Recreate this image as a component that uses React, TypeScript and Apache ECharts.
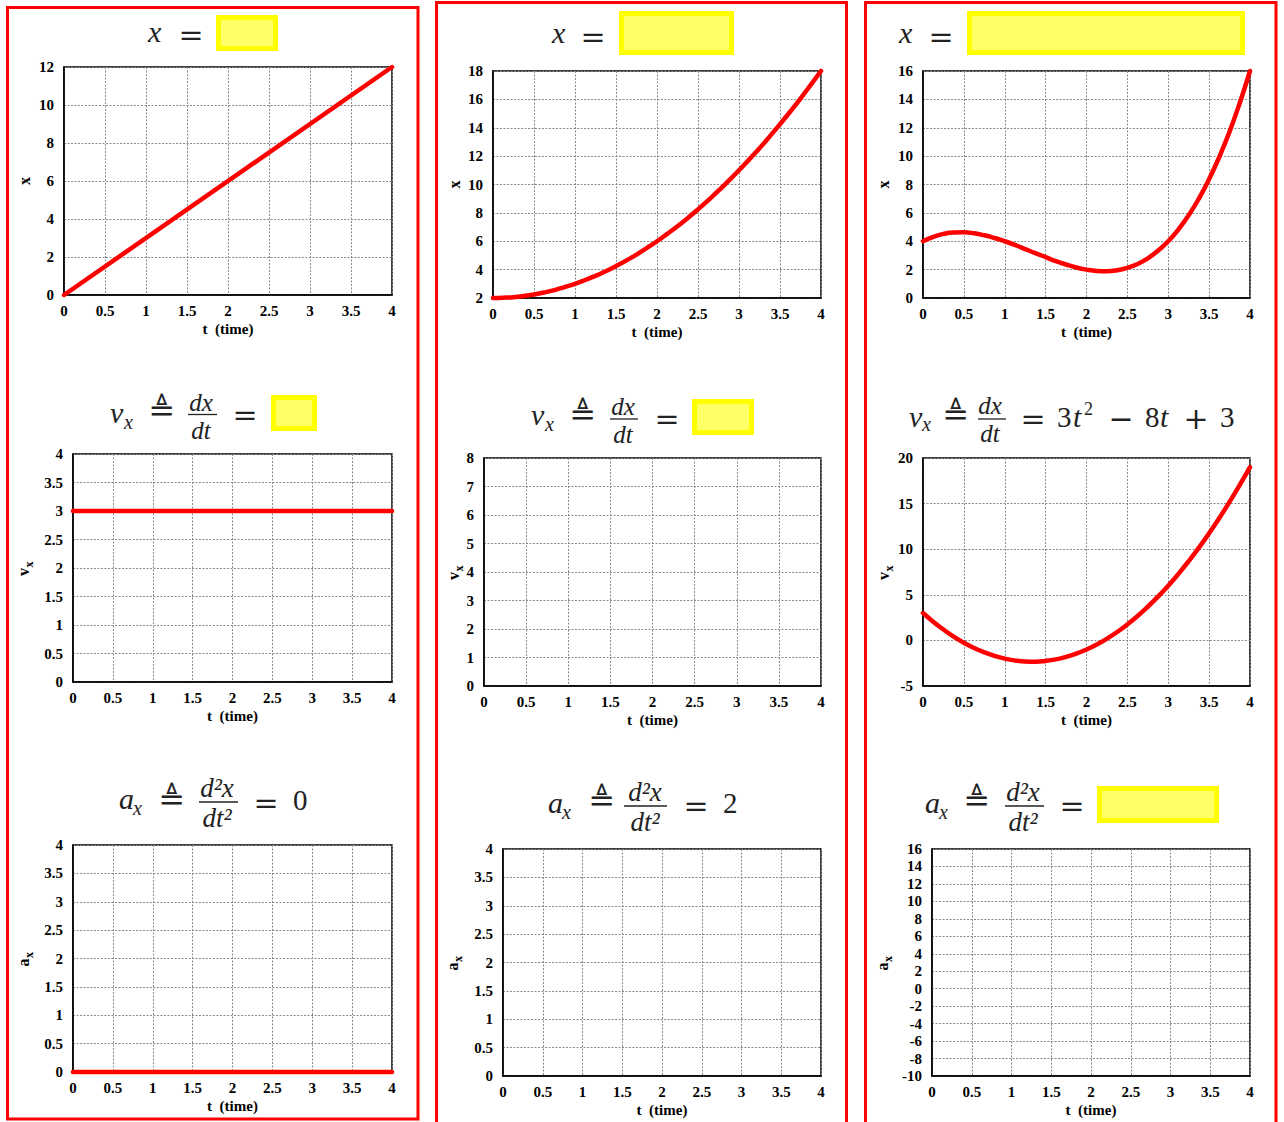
import React, { useEffect, useRef } from "react";
import * as echarts from "echarts";

// ---------- data ----------
const T_ENDS = [0, 4];
const T_EIGHTHS = [
  0, 0.125, 0.25, 0.375, 0.5, 0.625, 0.75, 0.875, 1, 1.125, 1.25, 1.375, 1.5, 1.625, 1.75, 1.875,
  2, 2.125, 2.25, 2.375, 2.5, 2.625, 2.75, 2.875, 3, 3.125, 3.25, 3.375, 3.5, 3.625, 3.75, 3.875, 4,
];

// column 1 : x, vx, ax
const C1_X = [0, 12];
const C1_VX = [3, 3];
const C1_AX = [0, 0];
// column 2 : x
const C2_X = [
  2, 2.02, 2.06, 2.14, 2.25, 2.39, 2.56, 2.77, 3, 3.27, 3.56, 3.89, 4.25, 4.64, 5.06, 5.52,
  6, 6.52, 7.06, 7.64, 8.25, 8.89, 9.56, 10.27, 11, 11.77, 12.56, 13.39, 14.25, 15.14, 16.06, 17.02, 18,
];
// column 3 : x, vx
const C3_X = [
  4, 4.31, 4.52, 4.62, 4.63, 4.56, 4.42, 4.23, 4, 3.74, 3.45, 3.16, 2.88, 2.6, 2.36, 2.15,
  2, 1.91, 1.89, 1.96, 2.13, 2.4, 2.8, 3.33, 4, 4.83, 5.83, 7.01, 8.38, 9.95, 11.73, 13.75, 16,
];
const C3_VX = [
  3, 2.05, 1.19, 0.42, -0.25, -0.83, -1.31, -1.7, -2, -2.2, -2.31, -2.33, -2.25, -2.08, -1.81, -1.45,
  -1, -0.45, 0.19, 0.92, 1.75, 2.67, 3.69, 4.8, 6, 7.3, 8.69, 10.17, 11.75, 13.42, 15.19, 17.05, 19,
];

// axis ranges [min, max, interval]
const T_RANGE = [0, 4, 0.5];
const Y_RANGES = [
  [0, 12, 2], [0, 4, 0.5], [0, 4, 0.5],
  [2, 18, 2], [0, 8, 1], [0, 4, 0.5],
  [0, 16, 2], [-5, 20, 5], [-10, 16, 2],
];
const Y_NAMES = [
  ["x", ""], ["v", "x"], ["a", "x"],
  ["x", ""], ["v", "x"], ["a", "x"],
  ["x", ""], ["v", "x"], ["a", "x"],
];
const X_NAME = "t  (time)";

// ---------- layout (pixels) ----------
const GRIDS = [
  [64, 67, 392, 295], [73, 454, 392, 682], [73, 845, 392, 1072],
  [493, 71, 821, 298], [484, 458, 821, 686], [503, 849, 821, 1076],
  [923, 71, 1250, 298], [923, 458, 1250, 686], [932, 849, 1250, 1076],
];
const Y_NAME_X = [24, 23, 23, 454, 453, 452, 883, 883, 882];

const SERIF = "'Liberation Serif', 'Times New Roman', Times, serif";
const LABEL_FONT = SERIF;
const MATH_FONT = SERIF;
const OP_FONT = "'DejaVu Serif', serif";
const INK = "#222";

function it(x: number, base: number, s: string, fs = 30) {
  return {
    type: "text", x, y: base - 0.3375 * fs,
    style: { text: s, fontSize: fs, lineHeight: fs, fontFamily: MATH_FONT, fontStyle: "italic", fill: INK, align: "left", verticalAlign: "middle" },
  };
}
function rm(x: number, base: number, s: string, fs = 29) {
  return {
    type: "text", x, y: base - 0.3375 * fs,
    style: { text: s, fontSize: fs, lineHeight: fs, fontFamily: MATH_FONT, fill: INK, align: "left", verticalAlign: "middle" },
  };
}
function op(cx: number, cy: number, s: string, fs = 30, font = OP_FONT) {
  return {
    type: "text", x: cx, y: cy,
    style: { text: s, fontSize: fs, lineHeight: 20, fontFamily: font, fill: INK, align: "center", verticalAlign: "middle" },
  };
}
// a stacked fraction: numerator and denominator as one two-line text, plus the bar
function frac(cx: number, cy: number, num: string, den: string, fs: number, lh: number, x1: number, x2: number, barY: number) {
  return [
    {
      type: "text", x: cx, y: cy,
      style: { text: num + "\n" + den, fontSize: fs, lineHeight: lh, fontFamily: MATH_FONT, fontStyle: "italic", fill: INK, align: "center", verticalAlign: "middle" },
    },
    { type: "line", shape: { x1, y1: barY, x2, y2: barY }, style: { stroke: INK, lineWidth: 1.3 } },
  ];
}
function ybox(x1: number, y1: number, x2: number, y2: number) {
  return [
    { type: "rect", shape: { x: x1, y: y1, width: x2 - x1, height: y2 - y1 }, style: { fill: "#ffff00" } },
    { type: "rect", shape: { x: x1 + 5, y: y1 + 5, width: x2 - x1 - 10, height: y2 - y1 - 10 }, style: { fill: "#ffff66" } },
  ];
}
function def(x: number, cyEq: number) {
  return op(x, cyEq - 4, "\u225C", 32, "'DejaVu Sans', sans-serif");
}

function buildGraphics() {
  const g: any[] = [];
  // red column frames
  g.push({ type: "rect", shape: { x: 7.5, y: 7.5, width: 410.5, height: 1111.5 }, style: { fill: "none", stroke: "#ff0000", lineWidth: 3 } });
  g.push({ type: "rect", shape: { x: 436.5, y: 2.5, width: 410, height: 1130 }, style: { fill: "none", stroke: "#ff0000", lineWidth: 3 } });
  g.push({ type: "rect", shape: { x: 865.5, y: 2.5, width: 410.5, height: 1130 }, style: { fill: "none", stroke: "#ff0000", lineWidth: 3 } });

  // row 1 titles
  g.push(it(148, 42, "x"), op(191, 34, "="), ...ybox(216, 15, 278, 51));
  g.push(it(552, 43, "x"), op(593, 36, "="), ...ybox(619, 11, 734, 55));
  g.push(it(899, 43, "x"), op(941, 36, "="), ...ybox(967, 11, 1245, 55));

  // row 2 titles
  g.push(it(110, 423, "v"), it(124, 429, "x", 20), def(162, 413.5),
    ...frac(201, 416, "dx", "dt", 25, 28, 188, 217, 414.5),
    op(245, 414, "="), ...ybox(271, 395, 317, 431));
  g.push(it(531, 425, "v"), it(545, 431, "x", 20), def(583, 418),
    ...frac(623, 420, "dx", "dt", 25, 28, 610, 638, 419),
    op(667, 418, "="), ...ybox(692, 399, 754, 435));
  g.push(it(909, 427, "v"), it(922, 431, "x", 20), def(956, 418),
    ...frac(990, 419.5, "dx", "dt", 25, 28, 978, 1006, 419),
    op(1033, 418, "="), rm(1057, 427, "3"), it(1073, 427, "t"), rm(1084, 415, "2", 18),
    op(1121, 418, "\u2212"), rm(1145, 427, "8"), it(1160, 427, "t"),
    op(1196, 418, "+"), rm(1220, 427, "3"));

  // row 3 titles
  g.push(it(119, 809, "a"), it(133, 815, "x", 20), def(172, 802.5),
    ...frac(217, 802.5, "d\u00B2x", "dt\u00B2", 27, 30, 199, 238, 802),
    op(266, 802, "="), rm(293, 810, "0"));
  g.push(it(548, 813, "a"), it(562, 819, "x", 20), def(602, 804),
    ...frac(645, 807, "d\u00B2x", "dt\u00B2", 27, 30, 624, 667, 806),
    op(696, 805, "="), rm(723, 813, "2"));
  g.push(it(925, 813, "a"), it(939, 819, "x", 20), def(977, 804),
    ...frac(1023, 807, "d\u00B2x", "dt\u00B2", 27, 30, 1005, 1044, 806),
    op(1072, 805, "="), ...ybox(1097, 786, 1219, 823));

  // rotated y-axis names
  GRIDS.forEach((gr, i) => {
    const cy = (gr[1] + gr[3]) / 2;
    const cx = Y_NAME_X[i];
    const [main, sub] = Y_NAMES[i];
    const base = { fontFamily: LABEL_FONT, fontWeight: "bold", fill: "#000", align: "center", verticalAlign: "middle" };
    if (!sub) {
      g.push({ type: "text", x: cx, y: cy, rotation: Math.PI / 2, style: { ...base, text: main, fontSize: 16 } });
    } else {
      g.push({ type: "text", x: cx, y: cy + 4, rotation: Math.PI / 2, style: { ...base, text: main, fontSize: 16 } });
      g.push({ type: "text", x: cx + 6, y: cy - 3.5, rotation: Math.PI / 2, style: { ...base, text: sub, fontSize: 12 } });
    }
  });
  return g;
}

function seriesData(ts: number[], vs: number[]) {
  return ts.map((t, i) => [t, vs[i]]);
}

export default function App() {
  const ref = useRef<HTMLDivElement>(null);
  useEffect(() => {
    if (!ref.current) return;
    const chart = echarts.init(ref.current, undefined, { renderer: "svg" });
    const labelStyle = { fontFamily: LABEL_FONT, fontWeight: "bold", fontSize: 15, color: "#000" };
    const grids = GRIDS.map((g) => ({
      left: g[0], top: g[1], width: g[2] - g[0], height: g[3] - g[1],
      show: true, borderColor: "#000", borderWidth: 1.5, containLabel: false,
    }));
    const split = { show: true, lineStyle: { color: "#8a8a8a", width: 1, type: [2, 1.5] } };
    const xAxes = GRIDS.map((_, i) => ({
      gridIndex: i, type: "value", min: T_RANGE[0], max: T_RANGE[1], interval: T_RANGE[2],
      axisLine: { show: true, onZero: false, lineStyle: { color: "#000", width: 1.5 } },
      axisTick: { show: false }, splitLine: split,
      axisLabel: { ...labelStyle, margin: 8, showMinLabel: true, showMaxLabel: true },
      name: X_NAME, nameLocation: "middle", nameGap: 26,
      nameTextStyle: { ...labelStyle, fontSize: 15 },
    }));
    const yAxes = GRIDS.map((_, i) => ({
      gridIndex: i, type: "value", min: Y_RANGES[i][0], max: Y_RANGES[i][1], interval: Y_RANGES[i][2],
      axisLine: { show: true, onZero: false, lineStyle: { color: "#000", width: 1.5 } },
      axisTick: { show: false }, splitLine: split,
      axisLabel: { ...labelStyle, margin: 10, showMinLabel: true, showMaxLabel: true },
    }));
    const line = (idx: number, ts: number[], vs: number[], smooth: boolean) => ({
      type: "line", xAxisIndex: idx, yAxisIndex: idx, data: seriesData(ts, vs),
      showSymbol: false, smooth, clip: false, silent: true,
      lineStyle: { color: "#ff0000", width: 4.5, cap: "round", join: "round" },
    });
    chart.setOption({
      animation: false,
      backgroundColor: "#fff",
      grid: grids,
      xAxis: xAxes,
      yAxis: yAxes,
      series: [
        line(0, T_ENDS, C1_X, false),
        line(1, T_ENDS, C1_VX, false),
        line(2, T_ENDS, C1_AX, false),
        line(3, T_EIGHTHS, C2_X, true),
        line(6, T_EIGHTHS, C3_X, true),
        line(7, T_EIGHTHS, C3_VX, true),
      ],
      graphic: buildGraphics(),
    });
    return () => chart.dispose();
  }, []);
  return <div ref={ref} style={{ position: "absolute", left: 0, top: 0, width: 1284, height: 1122 }} />;
}
